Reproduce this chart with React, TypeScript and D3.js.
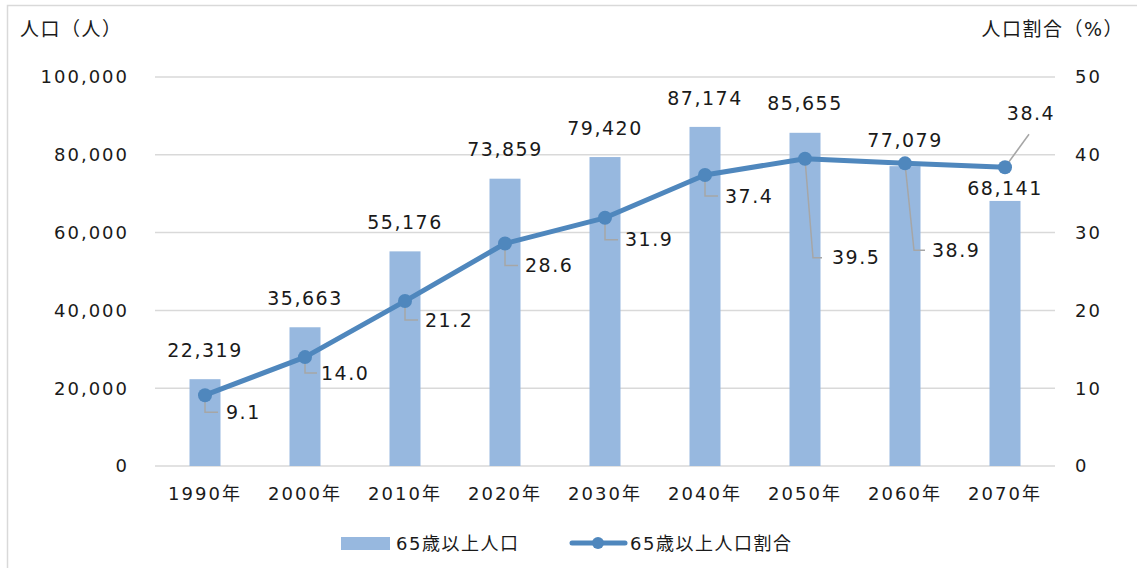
import React from "react";
import * as d3 from "d3";

const categories = ["1990年", "2000年", "2010年", "2020年", "2030年", "2040年", "2050年", "2060年", "2070年"];
const population = [22319, 35663, 55176, 73859, 79420, 87174, 85655, 77079, 68141];
const ratio = [9.1, 14.0, 21.2, 28.6, 31.9, 37.4, 39.5, 38.9, 38.4];
const leftTicks = [0, 20000, 40000, 60000, 80000, 100000];
const rightTicks = [0, 10, 20, 30, 40, 50];
const seriesNames = ["65歳以上人口", "65歳以上人口割合"];

// layout offsets for data labels (pixels)
const barLabelDy = [-29, -29, -29, -29, -29, -29, -29, -26, -13];
const pctLabel = [
  { dx: 21, dy: 17, lx: 0, ly: 17, ex: 13 },
  { dx: 16, dy: 16, lx: 0, ly: 16, ex: 12 },
  { dx: 20, dy: 19, lx: 0, ly: 19, ex: 13 },
  { dx: 20, dy: 22, lx: 0, ly: 22, ex: 13 },
  { dx: 20, dy: 22, lx: 0, ly: 22, ex: 13 },
  { dx: 20, dy: 21, lx: 0, ly: 21, ex: 13 },
  { dx: 27, dy: 99, lx: 8, ly: 99, ex: 17 },
  { dx: 27, dy: 87, lx: 9, ly: 87, ex: 20 },
  { dx: 26, dy: -54, lx: 24, ly: -33, ex: 24 },
];

const W = 1137;
const H = 568;
const FONT = "'DejaVu Sans', 'Noto Sans CJK JP', sans-serif";
const BAR = "#97b8df";
const LINE = "#4f87bd";
const GRID = "#d9d9d9";
const TEXT = "#1a1a1a";

export default function App() {
  const x = d3.scaleBand<string>().domain(categories).range([155, 1055]).paddingInner(0).paddingOuter(0);
  const yL = d3.scaleLinear().domain([0, 100000]).range([466, 77]);
  const yR = d3.scaleLinear().domain([0, 50]).range([466, 77]);
  const fmt = d3.format(",");
  const barW = 31;
  const cx = (c: string) => (x(c) as number) + x.bandwidth() / 2;
  const pts: [number, number][] = categories.map((c, i) => [cx(c), yR(ratio[i])]);
  const line = d3.line();

  return (
    <svg width={W} height={H} style={{ position: "absolute", left: 0, top: 0, background: "#fff" }} fontFamily={FONT}>
      <rect x={7.5} y={5.5} width={W + 10} height={H + 10} fill="#fff" stroke="#d9d9d9" strokeWidth={1.5} />
      {leftTicks.map((t) => (
        <g key={"g" + t}>
          <line x1={155} x2={1055} y1={yL(t)} y2={yL(t)} stroke={GRID} strokeWidth={1.5} />
          <text x={129} y={yL(t)} dy="0.35em" textAnchor="end" fontSize={18} letterSpacing={2} fill={TEXT}>{fmt(t)}</text>
        </g>
      ))}
      {rightTicks.map((t) => (
        <text key={"r" + t} x={1075} y={yR(t)} dy="0.35em" textAnchor="start" fontSize={18} letterSpacing={2} fill={TEXT}>{t}</text>
      ))}
      <text x={20} y={36} fontSize={19} letterSpacing={1.5} fill={TEXT}>人口（人）</text>
      <text x={1124} y={36} textAnchor="end" fontSize={19} letterSpacing={1.5} fill={TEXT}>人口割合（%）</text>
      {categories.map((c, i) => (
        <rect key={"b" + c} x={cx(c) - barW / 2} y={yL(population[i])} width={barW} height={yL(0) - yL(population[i])} fill={BAR} />
      ))}
      {categories.map((c) => (
        <text key={"c" + c} x={cx(c)} y={494} dy="0.35em" textAnchor="middle" fontSize={18} letterSpacing={2} fill={TEXT}>{c}</text>
      ))}
      {categories.map((c, i) => (
        <text key={"bl" + c} x={cx(c)} y={yL(population[i]) + barLabelDy[i]} dy="0.35em" textAnchor="middle" fontSize={19} letterSpacing={1.5} fill={TEXT}>{fmt(population[i])}</text>
      ))}
      {pts.map((p, i) => {
        const o = pctLabel[i];
        const d = i === 8
          ? `M${p[0]},${p[1]}L${p[0] + o.lx},${p[1] + o.ly}`
          : `M${p[0]},${p[1]}L${p[0] + o.lx},${p[1] + o.ly}L${p[0] + o.ex},${p[1] + o.ly}`;
        return <path key={"ld" + i} d={d} fill="none" stroke="#a6a6a6" strokeWidth={1.5} />;
      })}
      <path d={line(pts) as string} fill="none" stroke={LINE} strokeWidth={5} strokeLinejoin="round" />
      {pts.map((p, i) => (
        <circle key={"m" + i} cx={p[0]} cy={p[1]} r={7} fill={LINE} />
      ))}
      {pts.map((p, i) => {
        const o = pctLabel[i];
        return (
          <text key={"pl" + i} x={p[0] + o.dx} y={p[1] + o.dy} dy="0.35em" textAnchor={i === 8 ? "middle" : "start"} fontSize={19} letterSpacing={1.5} fill={TEXT}>
            {ratio[i].toFixed(1)}
          </text>
        );
      })}
      <rect x={341} y={537} width={49} height={13} fill={BAR} />
      <text x={396} y={544} dy="0.35em" fontSize={18} fill={TEXT} letterSpacing={1.5}>{seriesNames[0]}</text>
      <line x1={572} x2={625} y1={543} y2={543} stroke={LINE} strokeWidth={5} strokeLinecap="round" />
      <circle cx={598} cy={543} r={6} fill={LINE} />
      <text x={630} y={544} dy="0.35em" fontSize={18} fill={TEXT} letterSpacing={1.5}>{seriesNames[1]}</text>
    </svg>
  );
}
